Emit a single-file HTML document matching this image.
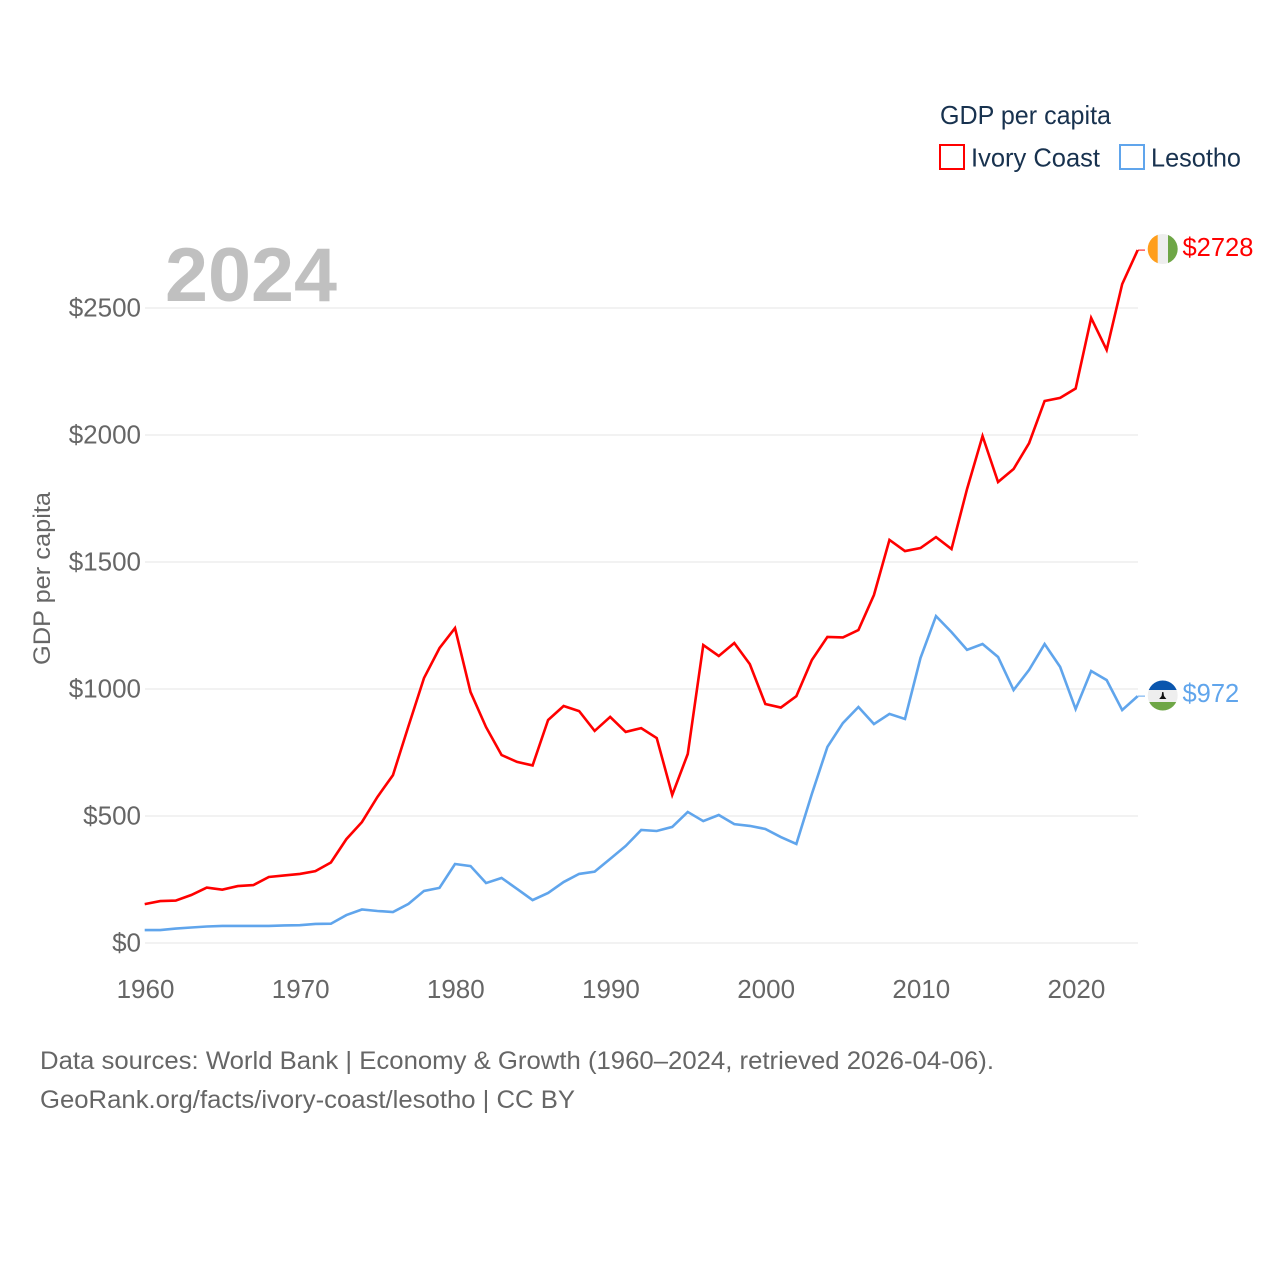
<!DOCTYPE html>
<html lang="en">
<head>
<meta charset="utf-8">
<title>GDP per capita: Ivory Coast and Lesotho</title>
<style>
html,body{margin:0;padding:0;background:#fff}
svg{display:block}
text{font-family:"Liberation Sans",sans-serif}
</style>
</head>
<body>
<svg id="chart" xmlns="http://www.w3.org/2000/svg" width="1280" height="1280" viewBox="0 0 1280 1280">
  <rect width="1280" height="1280" fill="#fff"/>
  <g id="grid"></g>
  <g id="yticks"></g>
  <g id="xticks"></g>
  <text x="165" y="301" font-size="76" font-weight="700" fill="#c0c0c0" textLength="172" lengthAdjust="spacingAndGlyphs">2024</text>
  <text transform="translate(50,665) rotate(-90)" font-size="24" fill="#666" textLength="173" lengthAdjust="spacingAndGlyphs">GDP per capita</text>
  <g id="series"></g>

  <g>
    <text x="940" y="124" font-size="26" fill="#18324f" textLength="171" lengthAdjust="spacingAndGlyphs">GDP per capita</text>
    <rect x="940" y="145" width="24" height="24" fill="#fff" stroke="#ff0000" stroke-width="2"/>
    <text x="971" y="166.5" font-size="26" fill="#18324f" textLength="129" lengthAdjust="spacingAndGlyphs">Ivory Coast</text>
    <rect x="1120" y="145" width="24" height="24" fill="#fff" stroke="#60a5ec" stroke-width="2"/>
    <text x="1151" y="166.5" font-size="26" fill="#18324f" textLength="90" lengthAdjust="spacingAndGlyphs">Lesotho</text>
  </g>

  <defs>
    <clipPath id="clip-ivory"><circle cx="1162.7" cy="249" r="15"/></clipPath>
    <clipPath id="clip-lesotho"><circle cx="1162.7" cy="695.5" r="15"/></clipPath>
  </defs>
  <g id="flag-ivory" clip-path="url(#clip-ivory)">
    <rect x="1147" y="233" width="11" height="32" fill="#ff9e1b"/>
    <rect x="1157.7" y="233" width="10.5" height="32" fill="#eeeeee"/>
    <rect x="1168" y="233" width="11" height="32" fill="#6ea646"/>
  </g>
  <g id="flag-lesotho" clip-path="url(#clip-lesotho)">
    <rect x="1147" y="680" width="32" height="10" fill="#0a56ae"/>
    <rect x="1147" y="690" width="32" height="12" fill="#eeeeee"/>
    <rect x="1147" y="702" width="32" height="10" fill="#6ea646"/>
    <path d="M1162.2 692h1.2l.6 4 2.4 3h-7.2l2.4-3z" fill="#111"/>
  </g>

  <text x="40" y="1069" font-size="25" fill="#666" textLength="954" lengthAdjust="spacingAndGlyphs">Data sources: World Bank | Economy &amp; Growth (1960–2024, retrieved 2026-04-06).</text>
  <text x="40" y="1108" font-size="25" fill="#666" textLength="535" lengthAdjust="spacingAndGlyphs">GeoRank.org/facts/ivory-coast/lesotho | CC BY</text>
</svg>
<script>
const years = [1960,1961,1962,1963,1964,1965,1966,1967,1968,1969,1970,1971,1972,1973,1974,1975,1976,1977,1978,1979,1980,1981,1982,1983,1984,1985,1986,1987,1988,1989,1990,1991,1992,1993,1994,1995,1996,1997,1998,1999,2000,2001,2002,2003,2004,2005,2006,2007,2008,2009,2010,2011,2012,2013,2014,2015,2016,2017,2018,2019,2020,2021,2022,2023,2024];
const ivoryCoast = [153,165,167,189,218,210,224,228,260,266,272,283,317,409,476,575,661,854,1043,1161,1240,988,850,740,713,699,878,933,913,835,890,831,846,807,583,744,1173,1130,1181,1098,941,927,972,1114,1205,1203,1232,1370,1587,1543,1555,1598,1551,1787,1996,1815,1866,1968,2134,2146,2183,2461,2335,2594,2728];
const lesotho = [51,51,57,61,65,67,67,67,67,69,70,75,76,110,132,126,122,154,205,217,311,303,236,256,213,169,197,240,272,281,331,382,445,441,457,516,480,504,468,461,449,417,390,587,772,866,929,862,902,882,1122,1287,1224,1154,1177,1126,996,1075,1177,1087,921,1071,1035,917,972];
const yTickValues = [0,500,1000,1500,2000,2500];
const xTickValues = [1960,1970,1980,1990,2000,2010,2020];

const NS = 'http://www.w3.org/2000/svg';
const xScale = function (year) { return 144.7 + (year - 1960) * (1137.7 - 144.7) / (2024 - 1960); };
const yScale = function (value) { return 943 - value * 0.254; };
const mk = function (tag, parent, attrs, text) {
  const el = document.createElementNS(NS, tag);
  for (const k in attrs) el.setAttribute(k, attrs[k]);
  if (text !== undefined) el.textContent = text;
  parent.appendChild(el);
  return el;
};

const root = document.getElementById('chart');
const gridG = document.getElementById('grid');
const yG = document.getElementById('yticks');
const xG = document.getElementById('xticks');
const seriesG = document.getElementById('series');

yTickValues.forEach(function (v) {
  const line = mk('line', gridG, {x1: 145, x2: 1138, y1: yScale(v), y2: yScale(v), stroke: '#eeeeee', 'stroke-width': 1.6});
  
  
  const label = mk('text', yG, {x: 141, y: yScale(v) + 8.3, 'text-anchor': 'end', 'font-size': 26, fill: '#666'}, '$' + v);
  
  
});

xTickValues.forEach(function (y) {
  const label = mk('text', xG, {x: xScale(y) + 0.8, y: 998, 'text-anchor': 'middle', 'font-size': 26, fill: '#666'}, String(y));
  
  
});

const drawSeries = function (values, color, name, labelX) {
  const pts = values.map(function (v, i) { return xScale(years[i]).toFixed(2) + ',' + yScale(v).toFixed(2); }).join(' ');
  const line = mk('polyline', seriesG, {points: pts, fill: 'none', stroke: color, 'stroke-width': 2.6, 'stroke-linejoin': 'miter'});
  
  
  const last = values[values.length - 1];
  const endY = yScale(last);
  const connector = mk('line', seriesG, {x1: 1138, x2: 1145, y1: endY, y2: endY, stroke: color, 'stroke-width': 1});
  
  
  const label = mk('text', root, {x: labelX, y: endY + 5.8, 'font-size': 25.5, fill: color}, '$' + last);
  
  
};

drawSeries(ivoryCoast, '#ff0000', 'ivory-coast', 1182.5);
drawSeries(lesotho, '#60a5ec', 'lesotho', 1182.5);
</script>
</body>
</html>
